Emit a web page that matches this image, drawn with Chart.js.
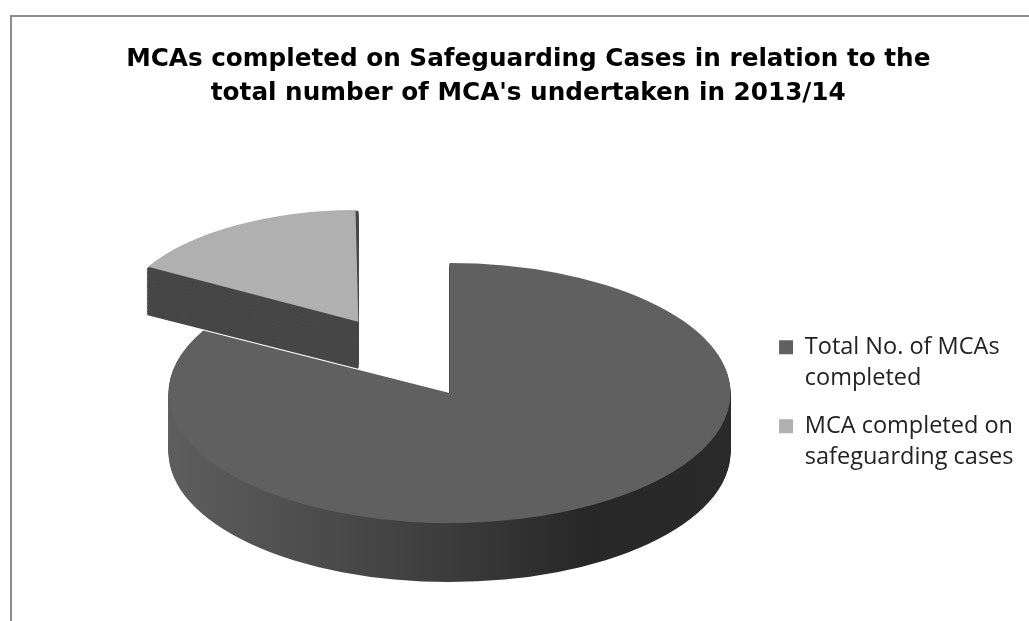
<!DOCTYPE html>
<html lang="en">
<head>
<meta charset="UTF-8">
<title>MCAs completed on Safeguarding Cases 2013/14</title>
<script src="https://cdn.jsdelivr.net/npm/chart.js@4.4.1/dist/chart.umd.min.js"></script>
<style>
  html, body { margin: 0; padding: 0; background: #fff; }
  .frame { position: relative; width: 1029px; height: 621px; overflow: hidden; }
  .frame::before {
    content: ''; position: absolute; left: 10px; top: 15px; right: -10px; bottom: -10px;
    border-top: 2px solid #8c8c8c; border-left: 2px solid #8c8c8c;
  }
  canvas { position: absolute; left: 0; top: 0; }
</style>
</head>
<body>
<div class="frame">
  <canvas id="mcaChart" width="1029" height="621"></canvas>
</div>
<script>
// data (share of the pie)
const categories = [
  ['Total No. of MCAs', 'completed'],
  ['MCA completed on', 'safeguarding cases']
];
const mcaCounts = [83, 17];
const titleLines = [
  'MCAs completed on Safeguarding Cases in relation to the',
  "total number of MCA's undertaken in 2013/14"
];

// path of one slice, same geometry the arc element uses
function slicePath(ctx, a) {
  const d = (a.options.offset || 0) / 4;
  const mid = (a.startAngle + a.endAngle) / 2;
  const circ = a.endAngle - a.startAngle;
  const r = a.outerRadius + d * (1 - Math.sin(Math.min(Math.PI, circ)));
  const x = a.x + Math.cos(mid) * d;
  const y = a.y + Math.sin(mid) * d;
  ctx.beginPath();
  ctx.moveTo(x, y);
  ctx.arc(x, y, r, a.startAngle, a.endAngle);
  ctx.closePath();
}

// squash the pie into an ellipse, give it depth, shrink slices that sit further back
const tiltPlugin = {
  id: 'tilt',
  beforeDatasetsDraw(chart, args, opts) {
    const ctx = chart.ctx;
    const arcs = chart.getDatasetMeta(0).data;
    const cx = arcs[0].x, cy = arcs[0].y, R = arcs[0].outerRadius;
    const X0 = cx + opts.shiftX, Y0 = cy + opts.shiftY;

    const view = arcs.map(a => {
      const d = (a.options.offset || 0) / 4;
      const mid = (a.startAngle + a.endAngle) / 2;
      const px = a.x + Math.cos(mid) * d, py = a.y + Math.sin(mid) * d;
      return { px, py, f: 1 + opts.perspective * (py - cy) / R };
    });
    const place = (i, lift) => {
      const v = view[i];
      ctx.translate(X0, Y0 + lift * v.f);
      ctx.scale(opts.sx, opts.sy);
      ctx.translate(-cx, -cy);
      ctx.translate(v.px, v.py);
      ctx.scale(v.f, v.f);
      ctx.translate(-v.px, -v.py);
    };

    const grad = ctx.createLinearGradient(cx - R, 0, cx + R, 0);
    grad.addColorStop(0, '#5e5e5e');
    grad.addColorStop(0.5, '#3c3c3c');
    grad.addColorStop(0.75, '#272727');
    grad.addColorStop(1, '#2a2a2a');

    // sides, back slice first
    for (let i = arcs.length - 1; i >= 0; i--) {
      const fill = i === 0 ? grad : opts.sideColors[i];
      for (let k = opts.depth; k >= 1; k--) {
        ctx.save();
        place(i, k);
        slicePath(ctx, arcs[i]);
        ctx.fillStyle = fill;
        ctx.fill();
        ctx.restore();
      }
    }
    // tops, drawn by the arc elements themselves
    arcs.forEach((a, i) => {
      ctx.save();
      place(i, 0);
      a.draw(ctx);
      ctx.restore();
    });
    return false;
  }
};

new Chart(document.getElementById('mcaChart'), {
  type: 'pie',
  data: {
    labels: categories,
    datasets: [{
      data: mcaCounts,
      backgroundColor: ['#606060', '#b0b0b0'],
      borderWidth: 0,
      offset: [0, 510],
      radius: 200,
      cutout: '0%',
      clip: false
    }]
  },
  options: {
    responsive: false,
    animation: false,
    events: [],
    layout: { padding: { left: 33, right: 5.5, top: 0, bottom: 0 } },
    plugins: {
      title: {
        display: true,
        text: titleLines,
        color: '#000',
        font: { family: 'DejaVu Sans', size: 24.7, weight: 'bold', lineHeight: 1.4 },
        padding: { top: 42, bottom: 80 }
      },
      legend: {
        position: 'right',
        fullSize: false,
        labels: {
          color: '#222',
          font: { family: 'Open Sans', size: 23.5, lineHeight: 1.32 },
          boxWidth: 14,
          boxHeight: 14,
          padding: 17
        }
      },
      tooltip: { enabled: false },
      tilt: {
        sx: 1.405,
        sy: 0.65,
        shiftX: 52,
        shiftY: -13,
        depth: 59,
        perspective: 0.37,
        sideColors: [null, '#474747']
      }
    }
  },
  plugins: [tiltPlugin]
});
</script>
</body>
</html>
